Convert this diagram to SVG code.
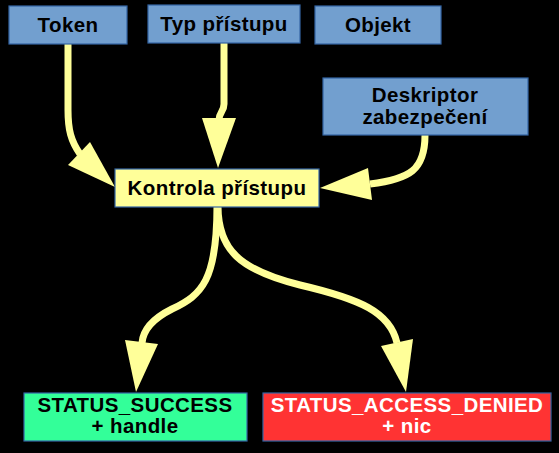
<svg xmlns="http://www.w3.org/2000/svg" width="559" height="453" viewBox="0 0 559 453">
<style>
.bg{fill:#000}
.blue{fill:#729fcf;stroke:#3465a4;stroke-width:1.2}
.yel{fill:#ffff99;stroke:#3465a4;stroke-width:1.2}
.green{fill:#33ff99;stroke:#3465a4;stroke-width:1.2}
.red{fill:#ff3333;stroke:#3465a4;stroke-width:1.2}
.t{font-family:"Liberation Sans",Arial,sans-serif;font-weight:bold;font-size:20.5px;letter-spacing:0.4px;text-anchor:middle;fill:#000}
.w{fill:#fff}
.ln{fill:none;stroke:#ffff99;stroke-width:7}
.ah{fill:#ffff99}
</style>
<rect class="bg" x="0" y="0" width="559" height="453"/>
<g id="connectors">
<path class="ln" d="M68,44 L68,110 C68,130 71,141 80,154"/>
<polygon class="ah" points="68,165 90,142 115,187"/>
<path class="ln" d="M224,43 L224,104 C224,112 219,112 219,120"/>
<polygon class="ah" points="202,118 236,118 218,168"/>
<path class="ln" d="M425,135 C425,170 410,179 370,184"/>
<polygon class="ah" points="368,168 372,200 320,188"/>
<path class="ln" d="M217,206 C217,280 202,295 172,309 C152,319 143,330 142,343"/>
<polygon class="ah" points="125,340 158,344 136,392"/>
<path class="ln" d="M218,206 C218,250 240,270 300,285 C360,299 390,312 397,343"/>
<polygon class="ah" points="381,346 413,339 406,392"/>
</g>
<g id="token">
<rect class="blue" x="9" y="6" width="118" height="38"/>
<text class="t" x="68" y="32">Token</text>
</g>
<g id="typ">
<rect class="blue" x="148" y="5" width="152" height="38"/>
<text class="t" x="224" y="31">Typ přístupu</text>
</g>
<g id="objekt">
<rect class="blue" x="315" y="6" width="126" height="38"/>
<text class="t" x="378" y="32">Objekt</text>
</g>
<g id="deskriptor">
<rect class="blue" x="323" y="78" width="205" height="57"/>
<text class="t" x="425" y="102">Deskriptor</text>
<text class="t" x="425" y="124">zabezpečení</text>
</g>
<g id="kontrola">
<rect class="yel" x="115" y="169" width="204" height="38"/>
<text class="t" x="217" y="195">Kontrola přístupu</text>
</g>
<g id="success">
<rect class="green" x="24" y="393" width="223" height="48"/>
<text class="t" x="135" y="412">STATUS_SUCCESS</text>
<text class="t" x="135" y="433">+ handle</text>
</g>
<g id="denied">
<rect class="red" x="263" y="393" width="288" height="48"/>
<text class="t w" x="407" y="412">STATUS_ACCESS_DENIED</text>
<text class="t w" x="407" y="433">+ nic</text>
</g>
</svg>
